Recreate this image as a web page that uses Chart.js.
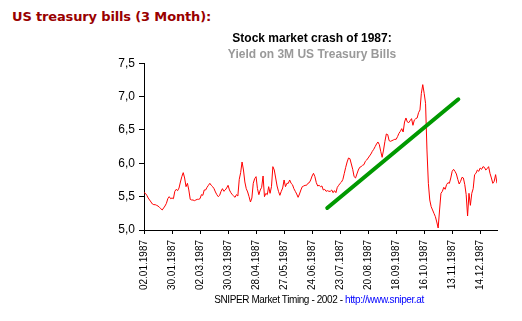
<!DOCTYPE html>
<html>
<head>
<meta charset="utf-8">
<script src="https://cdn.jsdelivr.net/npm/chart.js@4.4.1/dist/chart.umd.min.js"></script>
<style>
  html, body { margin: 0; padding: 0; background: #fff; width: 522px; height: 321px; overflow: hidden; }
  #wrap { position: relative; width: 522px; height: 321px; }
  #c { position: absolute; left: 0; top: 0; }
  #pageTitle { position: absolute; left: 12px; top: 9px; font: bold 13px "DejaVu Sans", Verdana, sans-serif; line-height: 15px; color: #990000; white-space: nowrap; letter-spacing: -0.15px; }
  #footer { position: absolute; left: 169px; width: 300px; top: 294px; text-align: center; font: 10px "Liberation Sans", Arial, sans-serif; line-height: 12px; color: #000; white-space: nowrap; letter-spacing: -0.4px; }
  #footer span { color: #0000ff; }
</style>
</head>
<body>
<div id="wrap">
  <div id="pageTitle">US treasury bills (3 Month):</div>
  <canvas id="c" width="522" height="321"></canvas>
  <div id="footer">SNIPER Market Timing - 2002 - <span>http://www.sniper.at</span></div>
</div>
<script>
// Tick labels shown every 20 trading days
const tickLabels = ['02.01.1987','30.01.1987','02.03.1987','30.03.1987','28.04.1987','27.05.1987','24.06.1987','23.07.1987','20.08.1987','18.09.1987','16.10.1987','13.11.1987','14.12.1987'];
const tickEvery = 20;

// Daily yield on 3M US Treasury Bills, 1987 (trading days)
const yields = [
  5.56,5.55,5.52,5.48,5.45,5.42,5.39,5.38,5.38,5.37,
  5.36,5.34,5.32,5.30,5.33,5.36,5.40,5.47,5.50,5.47,
  5.48,5.47,5.58,5.61,5.59,5.63,5.72,5.80,5.86,5.78,
  5.65,5.70,5.60,5.46,5.45,5.45,5.44,5.45,5.46,5.46,
  5.47,5.53,5.52,5.60,5.60,5.64,5.67,5.70,5.67,5.65,
  5.62,5.57,5.53,5.50,5.52,5.58,5.62,5.58,5.60,5.63,
  5.67,5.60,5.56,5.53,5.51,5.49,5.53,5.51,5.76,5.86,
  6.02,5.90,5.72,5.62,5.57,5.50,5.42,5.48,5.70,5.77,
  5.80,5.62,5.53,5.60,5.64,5.81,5.50,5.55,5.53,5.65,
  5.55,5.65,5.95,5.90,5.78,5.66,5.58,5.52,5.58,5.63,
  5.75,5.65,5.70,5.70,5.75,5.70,5.68,5.62,5.58,5.54,
  5.49,5.54,5.60,5.65,5.66,5.67,5.67,5.70,5.71,5.75,
  5.81,5.85,5.80,5.71,5.66,5.67,5.65,5.66,5.60,5.61,
  5.58,5.59,5.58,5.58,5.60,5.56,5.59,5.56,5.64,5.67,
  5.70,5.72,5.76,5.85,5.94,6.02,6.08,6.07,5.99,5.91,
  5.80,5.78,5.84,5.90,5.94,5.95,5.97,5.98,6.03,6.05,
  6.08,6.11,6.14,6.18,6.21,6.25,6.29,6.32,6.28,6.18,
  6.09,6.20,6.33,6.44,6.43,6.34,6.33,6.34,6.35,6.36,
  6.36,6.40,6.45,6.48,6.52,6.47,6.62,6.68,6.62,6.61,
  6.64,6.67,6.57,6.65,6.67,6.68,6.76,6.80,7.05,7.18,
  7.05,6.90,6.20,5.70,5.45,5.35,5.30,5.25,5.20,5.12,
  5.03,5.30,5.55,5.58,5.64,5.61,5.68,5.71,5.70,5.78,
  5.88,5.91,5.88,5.84,5.76,5.69,5.73,5.79,5.78,5.68,
  5.53,5.21,5.55,5.37,5.55,5.62,5.83,5.85,5.90,5.88,
  5.93,5.91,5.95,5.94,5.90,5.92,5.95,5.85,5.78,5.70,
  5.73,5.83,5.70
];

// Hand-drawn green trend line (trading-day index, yield)
const trendX = [130.8, 224.4];
const trendY = [5.33, 6.96];

// Y axis range
const yMin = 5.0, yMax = 7.5, yStep = 0.5;

const font = 'Liberation Sans, Arial, sans-serif';

new Chart(document.getElementById('c'), {
  type: 'line',
  data: {
    datasets: [
      {
        data: trendX.map((x, i) => ({ x: x, y: trendY[i] })),
        borderColor: '#009900',
        borderWidth: 4,
        borderCapStyle: 'round',
        pointRadius: 0,
        fill: false
      },
      {
        data: yields.map((v, i) => ({ x: i, y: v })),
        borderColor: '#ff0000',
        borderWidth: 1,
        pointRadius: 0,
        tension: 0,
        fill: false
      }
    ]
  },
  options: {
    responsive: false,
    animation: false,
    devicePixelRatio: 1,
    layout: { padding: { left: 104, right: 2, top: 0, bottom: 0 } },
    plugins: {
      legend: { display: false },
      tooltip: { enabled: false },
      title: {
        display: true,
        text: 'Stock market crash of 1987:',
        color: '#000',
        font: { family: font, size: 12, weight: 'bold', lineHeight: 1.2 },
        padding: { top: 31, bottom: 0 }
      },
      subtitle: {
        display: true,
        text: 'Yield on 3M US Treasury Bills',
        color: '#999999',
        font: { family: font, size: 12, weight: 'bold', lineHeight: 1.2 },
        padding: { top: 2, bottom: 1.5 }
      }
    },
    scales: {
      x: {
        type: 'linear',
        min: 0,
        max: yields.length - 1,
        afterFit: (s) => { s.height = 91; },
        grid: { display: true, drawOnChartArea: false, drawTicks: true, tickLength: 4, color: '#000' },
        border: { display: true, color: '#000', width: 1 },
        ticks: {
          stepSize: tickEvery,
          includeBounds: false,
          autoSkip: false,
          minRotation: 90,
          maxRotation: 90,
          padding: 6,
          color: '#000',
          font: { family: font, size: 10 },
          callback: (v) => {
            const k = v / tickEvery;
            return Number.isInteger(k) && tickLabels[k] ? tickLabels[k] : '';
          }
        }
      },
      y: {
        position: 'left',
        min: yMin,
        max: yMax,
        afterFit: (s) => { s.width = 40; },
        grid: { display: true, drawOnChartArea: false, drawTicks: true, tickLength: 5, color: '#000' },
        border: { display: true, color: '#000', width: 1 },
        ticks: {
          stepSize: yStep,
          padding: 4,
          color: '#000',
          font: { family: font, size: 12 },
          callback: (v) => v.toFixed(1).replace('.', ',')
        }
      },
      yRight: {
        type: 'linear',
        position: 'right',
        display: true,
        min: yMin,
        max: yMax,
        afterFit: (s) => { s.width = 23; },
        grid: { display: false },
        border: { display: false },
        ticks: { display: false }
      }
    }
  }
});
</script>
</body>
</html>
